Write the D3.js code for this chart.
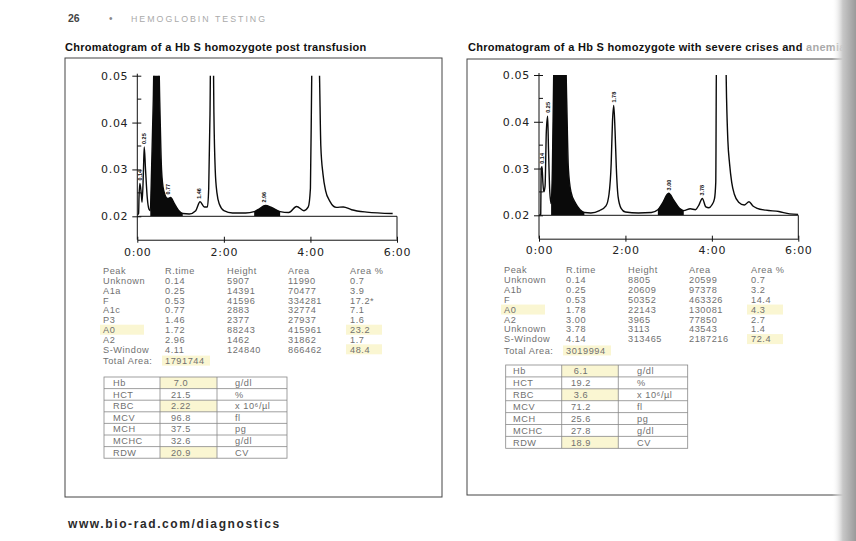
<!DOCTYPE html>
<html><head><meta charset="utf-8">
<script src="https://cdn.jsdelivr.net/npm/d3@7"></script>
<style>body{margin:0;background:#fff;} svg{display:block;font-family:"Liberation Sans",Arial,sans-serif;}</style>
</head><body>
<script>
// ---------- DATA ----------
const timeTicks = [0, 2, 4, 6];
const timeTickLabels = ["0:00", "2:00", "4:00", "6:00"];
const absTicks = [0.02, 0.03, 0.04, 0.05];
const absMinorTicks = [0.025, 0.035, 0.045];

// chromatogram traces [time (min), absorbance]
const traceLeft = [
  [0.00,0.0203],[0.03,0.0206],[0.04,0.0242],[0.06,0.0270],[0.09,0.0250],[0.11,0.0230],
  [0.14,0.0290],[0.16,0.0348],[0.19,0.0300],[0.23,0.0240],[0.27,0.0215],[0.30,0.0212],
  [0.33,0.0300],[0.37,0.0450],[0.40,0.0600],[0.48,0.0600],[0.52,0.0440],[0.56,0.0300],
  [0.61,0.0255],[0.70,0.0238],[0.77,0.0240],[0.85,0.0228],[0.95,0.0213],[1.05,0.0206],
  [1.20,0.0205],[1.35,0.0212],[1.45,0.0231],[1.55,0.0220],[1.62,0.0220],[1.65,0.0260],
  [1.68,0.0420],[1.70,0.0600],[1.75,0.0600],[1.77,0.0420],[1.80,0.0300],[1.84,0.0250],
  [1.90,0.0225],[2.00,0.0212],[2.20,0.0207],[2.50,0.0207],[2.70,0.0210],[2.80,0.0215],
  [2.96,0.0223],[3.10,0.0219],[3.30,0.0210],[3.50,0.0208],[3.68,0.0221],[3.85,0.0212],
  [3.95,0.0220],[4.00,0.0260],[4.03,0.0500],[4.05,0.0600],[4.18,0.0600],[4.21,0.0500],
  [4.24,0.0350],[4.29,0.0290],[4.35,0.0255],[4.45,0.0232],[4.60,0.0219],[4.76,0.0220],
  [4.95,0.0214],[5.30,0.0209],[5.90,0.0206]
];
const traceRight = [
  [0.00,0.0200],[0.04,0.0202],[0.05,0.0300],[0.07,0.0304],[0.09,0.0270],[0.11,0.0250],
  [0.14,0.0262],[0.17,0.0380],[0.20,0.0412],[0.22,0.0340],[0.25,0.0250],[0.28,0.0225],
  [0.31,0.0300],[0.34,0.0500],[0.36,0.0600],[0.60,0.0600],[0.64,0.0450],[0.68,0.0300],
  [0.74,0.0250],[0.85,0.0225],[0.95,0.0212],[1.05,0.0206],[1.20,0.0205],[1.40,0.0210],
  [1.55,0.0220],[1.62,0.0245],[1.67,0.0310],[1.70,0.0400],[1.73,0.0435],[1.76,0.0380],
  [1.79,0.0300],[1.83,0.0240],[1.90,0.0215],[2.00,0.0207],[2.30,0.0205],[2.60,0.0206],
  [2.75,0.0212],[2.85,0.0225],[3.00,0.0247],[3.12,0.0232],[3.25,0.0215],[3.35,0.0210],
  [3.50,0.0214],[3.62,0.0212],[3.70,0.0222],[3.78,0.0236],[3.86,0.0218],[3.93,0.0216],
  [4.00,0.0222],[4.06,0.0235],[4.09,0.0270],[4.11,0.0600],[4.31,0.0600],[4.34,0.0450],
  [4.37,0.0360],[4.41,0.0310],[4.46,0.0270],[4.52,0.0245],[4.62,0.0228],[4.75,0.0222],
  [4.86,0.0229],[4.95,0.0220],[5.05,0.0215],[5.25,0.0211],[5.55,0.0208],[5.80,0.0203],
  [6.00,0.0202]
];
// shaded (integrated) regions [from, to] in minutes
const fillsLeft = [[0.30, 1.05], [2.70, 3.30]];
const fillsRight = [[0.28, 1.05], [2.75, 3.35]];
// peak retention-time marks: [label, time, absorbance]
const marksLeft = [["0.14",0.06,0.0272],["0.25",0.16,0.0350],["0.77",0.72,0.0242],["1.46",1.43,0.0233],["2.96",2.92,0.0225]];
const marksRight = [["0.14",0.06,0.0306],["0.25",0.20,0.0415],["1.78",1.73,0.0437],["3.00",3.00,0.0249],["3.78",3.78,0.0238]];

// peak tables
const tableHeader = ["Peak", "R.time", "Height", "Area", "Area %"];
const peakNamesL = ["Unknown","A1a","F","A1c","P3","A0","A2","S-Window"];
const rtimeL = ["0.14","0.25","0.53","0.77","1.46","1.72","2.96","4.11"];
const heightL = [5907,14391,41596,2883,2377,88243,1462,124840];
const areaL = [11990,70477,334281,32774,27937,415961,31862,866462];
const areaPctL = ["0.7","3.9","17.2*","7.1","1.6","23.2","1.7","48.4"];
const totalAreaL = 1791744;
const peakNamesR = ["Unknown","A1b","F","A0","A2","Unknown","S-Window"];
const rtimeR = ["0.14","0.25","0.53","1.78","3.00","3.78","4.14"];
const heightR = [8805,20609,50352,22143,3965,3113,313465];
const areaR = [20599,97378,463326,130081,77850,43543,2187216];
const areaPctR = ["0.7","3.2","14.4","4.3","2.7","1.4","72.4"];
const totalAreaR = 3019994;

// blood count tables
const bloodLabels = ["Hb","HCT","RBC","MCV","MCH","MCHC","RDW"];
const bloodUnits = ["g/dl","%","x 10\u2076/\u00b5l","fl","pg","g/dl","CV"];
const bloodL = ["7.0","21.5","2.22","96.8","37.5","32.6","20.9"];
const bloodR = ["6.1","19.2","3.6","71.2","25.6","27.8","18.9"];

// ---------- DRAW ----------
const W = 856, H = 541;
const svg = d3.select("body").append("svg").attr("width", W).attr("height", H);
const defs = svg.append("defs");
const HL = "#faf6d2";

// page header
svg.append("text").attr("x", 68).attr("y", 22).attr("font-size", 10.5).attr("font-weight", "bold").attr("fill", "#444").text("26");
svg.append("text").attr("x", 109).attr("y", 22).attr("font-size", 10).attr("fill", "#888").text("\u2022");
svg.append("text").attr("x", 131).attr("y", 22).attr("font-size", 8.8).attr("fill", "#aaa").attr("letter-spacing", 2).text("HEMOGLOBIN TESTING");

// titles
svg.append("text").attr("x", 65).attr("y", 51).attr("font-size", 11).attr("font-weight", "bold").attr("fill", "#111").attr("letter-spacing", 0.3).text("Chromatogram of a Hb S homozygote post transfusion");
const t2 = svg.append("text").attr("x", 468).attr("y", 51).attr("font-size", 11).attr("font-weight", "bold").attr("fill", "#111").attr("letter-spacing", 0.3);
t2.append("tspan").text("Chromatogram of a Hb S homozygote with severe crises and ");
t2.append("tspan").attr("fill", "#aaa").text("anemia");

// boxes
svg.append("rect").attr("x", 65).attr("y", 58).attr("width", 377).attr("height", 439).attr("fill", "none").attr("stroke", "#444").attr("stroke-width", 1);
svg.append("rect").attr("x", 467).attr("y", 59).attr("width", 390).attr("height", 436).attr("fill", "none").attr("stroke", "#444").attr("stroke-width", 1);

function drawChart(id, trace, fills, marks, xr, yTop, yBase) {
  const x = d3.scaleLinear().domain([0, 6]).range(xr);
  const per = (yBase - yTop) / 0.03;
  const y = d3.scaleLinear().domain([0.015, 0.05]).range([yBase + 0.005 * per, yTop]);
  const g = svg.append("g");
  defs.append("clipPath").attr("id", id).append("rect")
    .attr("x", x(0)).attr("y", y(0.05)).attr("width", x(6) - x(0)).attr("height", y(0.02) - y(0.05));
  const plot = g.append("g").attr("clip-path", `url(#${id})`);
  const curve = d3.curveMonotoneX;
  fills.forEach(([a, b]) => {
    const sub = trace.filter(d => d[0] >= a && d[0] <= b);
    plot.append("path").datum(sub)
      .attr("d", d3.area().x(d => x(d[0])).y0(y(0.02)).y1(d => y(d[1])).curve(curve))
      .attr("fill", "#0a0a0a");
  });
  plot.append("path").datum(trace)
    .attr("d", d3.line().x(d => x(d[0])).y(d => y(d[1])).curve(curve))
    .attr("fill", "none").attr("stroke", "#0a0a0a").attr("stroke-width", 1.4);

  g.append("line").attr("x1", x(0)).attr("x2", x(6)).attr("y1", y(0.02)).attr("y2", y(0.02)).attr("stroke", "#111").attr("stroke-width", 1);
  g.append("line").attr("x1", x(6)).attr("x2", x(6)).attr("y1", y(0.02)).attr("y2", y(0.015)).attr("stroke", "#111").attr("stroke-width", 1);

  const ya = g.append("g").attr("transform", `translate(${x(0)},0)`)
    .call(d3.axisLeft(y).tickValues(absTicks).tickFormat(d3.format(".2f")).tickSizeInner(5).tickSizeOuter(0).tickPadding(4));
  ya.select(".domain").attr("d", `M0,${y(0.05) - 2}V${y(0.015)}`).attr("stroke", "#111");
  ya.selectAll(".tick line").attr("x2", -5).attr("x1", 4).attr("stroke", "#111");
  ya.selectAll(".tick text").attr("font-size", 11).attr("letter-spacing", 0.7).attr("font-family", "'DejaVu Sans', sans-serif").attr("fill", "#222");
  ya.selectAll(".minor").data(absMinorTicks).enter().append("line").attr("class", "minor")
    .attr("x1", 0).attr("x2", 4).attr("y1", d => y(d)).attr("y2", d => y(d)).attr("stroke", "#111");

  const xa = g.append("g").attr("transform", `translate(0,${y(0.015)})`)
    .call(d3.axisBottom(x).tickValues(timeTicks).tickFormat((d, i) => timeTickLabels[i]).tickSizeInner(3).tickSizeOuter(0).tickPadding(5));
  xa.select(".domain").attr("stroke", "#111");
  xa.selectAll(".tick line").attr("y1", -3).attr("y2", 3).attr("stroke", "#111");
  xa.selectAll(".tick text").attr("font-size", 11).attr("letter-spacing", 0.7).attr("font-family", "'DejaVu Sans', sans-serif").attr("fill", "#222");

  g.selectAll(".pm").data(marks).enter().append("text").attr("class", "pm")
    .attr("transform", d => `translate(${x(d[1]) + 2},${y(d[2]) - 2}) rotate(-90)`)
    .attr("font-size", 5.5).attr("font-weight", "bold").attr("fill", "#111").text(d => d[0]);
}

drawChart("clipL", traceLeft, fillsLeft, marksLeft, [137.3, 397], 75.7, 216.3);
drawChart("clipR", traceRight, fillsRight, marksRight, [539, 798.3], 75, 215.3);

function peakTable(cols, names, rt, hts, areas, pcts, total, hdrY, rowY0, step, hlRows, hlPct) {
  const g = svg.append("g").attr("font-size", 9.2).attr("fill", "#707070").attr("letter-spacing", 0.55);
  const totalY = rowY0 + names.length * step + 1.5;
  hlRows.forEach(i => {
    g.append("rect").attr("x", cols[0] - 3).attr("y", rowY0 + i * step - 5).attr("width", 44).attr("height", 10).attr("fill", HL);
  });
  hlPct.forEach(i => {
    g.append("rect").attr("x", cols[4] - 4).attr("y", rowY0 + i * step - 5).attr("width", 36).attr("height", 10).attr("fill", HL);
  });
  g.append("rect").attr("x", cols[1] - 3).attr("y", totalY - 5).attr("width", 48).attr("height", 10).attr("fill", HL);
  tableHeader.forEach((h, j) => g.append("text").attr("x", cols[j]).attr("y", hdrY).attr("dy", "0.35em").text(h));
  names.forEach((n, i) => {
    const yy = rowY0 + i * step;
    [n, rt[i], hts[i], areas[i], pcts[i]].forEach((v, j) =>
      g.append("text").attr("x", cols[j]).attr("y", yy).attr("dy", "0.35em").text(v));
  });
  g.append("text").attr("x", cols[0]).attr("y", totalY).attr("dy", "0.35em").text("Total Area:");
  g.append("text").attr("x", cols[1]).attr("y", totalY).attr("dy", "0.35em").text(total);
}
peakTable([103, 165, 227, 288, 350], peakNamesL, rtimeL, heightL, areaL, areaPctL, totalAreaL, 270.7, 280.7, 9.8, [5], [5, 7]);
peakTable([504, 566, 628, 689, 751], peakNamesR, rtimeR, heightR, areaR, areaPctR, totalAreaR, 270, 280, 9.85, [3], [3, 6]);

function bloodTable(xs, top, rh, vals, labelX, valX, unitX, hl) {
  const g = svg.append("g").attr("font-size", 9.2).attr("fill", "#707070").attr("letter-spacing", 0.55);
  hl.forEach(i => g.append("rect").attr("x", xs[1]).attr("y", top + i * rh).attr("width", xs[2] - xs[1]).attr("height", rh).attr("fill", HL));
  g.append("rect").attr("x", xs[0]).attr("y", top).attr("width", xs[3] - xs[0]).attr("height", rh * vals.length)
    .attr("fill", "none").attr("stroke", "#888").attr("stroke-width", 0.8);
  [xs[1], xs[2]].forEach(xx => g.append("line").attr("x1", xx).attr("x2", xx).attr("y1", top).attr("y2", top + rh * vals.length).attr("stroke", "#888").attr("stroke-width", 0.8));
  vals.forEach((v, i) => {
    const yy = top + i * rh;
    if (i > 0) g.append("line").attr("x1", xs[0]).attr("x2", xs[3]).attr("y1", yy).attr("y2", yy).attr("stroke", "#888").attr("stroke-width", 0.8);
    g.append("text").attr("x", labelX).attr("y", yy + rh / 2).attr("dy", "0.35em").text(bloodLabels[i]);
    g.append("text").attr("x", valX).attr("y", yy + rh / 2).attr("dy", "0.35em").attr("text-anchor", "middle").text(v);
    g.append("text").attr("x", unitX).attr("y", yy + rh / 2).attr("dy", "0.35em").text(bloodUnits[i]);
  });
}
bloodTable([104, 160, 217, 287], 377, 11.6, bloodL, 113, 181, 235, [0, 2, 6]);
bloodTable([505.7, 561.7, 618.3, 687.7], 365, 11.9, bloodR, 513, 581, 637, [0, 2, 6]);

svg.append("text").attr("x", 68).attr("y", 528).attr("font-size", 12).attr("font-weight", "bold").attr("fill", "#2a2a2a").attr("letter-spacing", 1.6).text("www.bio-rad.com/diagnostics");

const grad = defs.append("linearGradient").attr("id", "edge").attr("x1", "0").attr("x2", "1");
grad.append("stop").attr("offset", "0").attr("stop-color", "#fff").attr("stop-opacity", 0);
grad.append("stop").attr("offset", "0.45").attr("stop-color", "#c8c8c8").attr("stop-opacity", 1);
grad.append("stop").attr("offset", "1").attr("stop-color", "#9a9a9a").attr("stop-opacity", 1);
svg.append("rect").attr("x", 832).attr("y", 0).attr("width", 24).attr("height", H).attr("fill", "url(#edge)");
</script>
</body></html>
